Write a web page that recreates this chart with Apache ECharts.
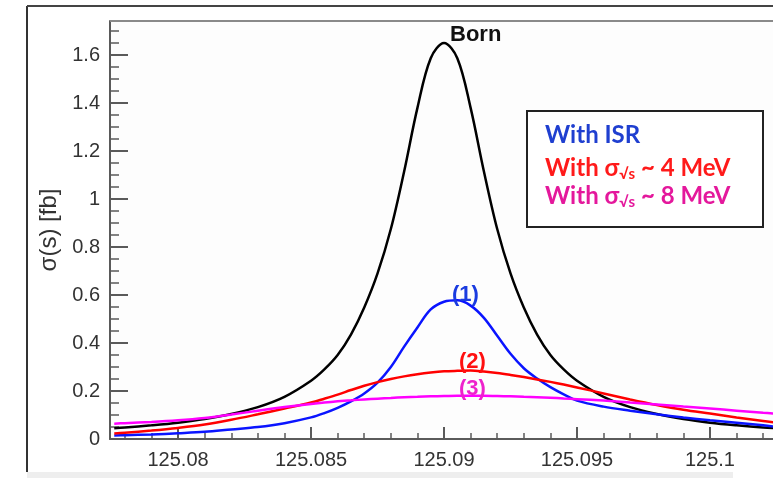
<!DOCTYPE html>
<html>
<head>
<meta charset="utf-8">
<script src="https://cdn.jsdelivr.net/npm/echarts@6/dist/echarts.min.js"></script>
<style>
  html, body { margin: 0; padding: 0; background: #fff; }
  #chart { width: 773px; height: 478px; }
</style>
</head>
<body>
<div id="chart"></div>
<script>
// sqrt(s) in GeV
const energy = [125.0776, 125.078, 125.079, 125.080, 125.081, 125.082, 125.083, 125.084, 125.085,
  125.0855, 125.086, 125.0865, 125.087, 125.0875, 125.088, 125.0885, 125.089, 125.0895, 125.090,
  125.0905, 125.091, 125.0915, 125.092, 125.0925, 125.093, 125.0935, 125.094, 125.0945, 125.095,
  125.096, 125.097, 125.098, 125.099, 125.100, 125.101, 125.102, 125.1024]

// sigma(s) in fb
const born = [0.045, 0.048, 0.057, 0.068, 0.083, 0.104, 0.133, 0.176, 0.243,
  0.29, 0.35, 0.435, 0.548, 0.69, 0.875, 1.115, 1.38, 1.587, 1.65,
  1.587, 1.38, 1.115, 0.875, 0.69, 0.548, 0.435, 0.35, 0.29, 0.243,
  0.176, 0.133, 0.104, 0.083, 0.068, 0.057, 0.048, 0.046]
const withISR = [0.015, 0.016, 0.019, 0.024, 0.030, 0.040, 0.050, 0.066, 0.090,
  0.108, 0.130, 0.157, 0.190, 0.235, 0.300, 0.385, 0.465, 0.54, 0.572,
  0.578, 0.556, 0.505, 0.43, 0.355, 0.295, 0.252, 0.216, 0.186, 0.16,
  0.135, 0.118, 0.103, 0.090, 0.078, 0.068, 0.057, 0.052]
const spread4 = [0.023, 0.026, 0.035, 0.046, 0.060, 0.080, 0.103, 0.127, 0.152,
  0.168, 0.185, 0.204, 0.222, 0.237, 0.250, 0.261, 0.270, 0.277, 0.282,
  0.284, 0.285, 0.281, 0.275, 0.267, 0.258, 0.248, 0.238, 0.227, 0.215,
  0.190, 0.165, 0.142, 0.122, 0.106, 0.090, 0.075, 0.069]
const spread8 = [0.064, 0.066, 0.071, 0.078, 0.088, 0.102, 0.118, 0.133, 0.146,
  0.152, 0.157, 0.161, 0.165, 0.168, 0.171, 0.174, 0.176, 0.178, 0.179,
  0.180, 0.180, 0.180, 0.179, 0.178, 0.176, 0.174, 0.172, 0.169, 0.166,
  0.160, 0.152, 0.144, 0.135, 0.127, 0.118, 0.109, 0.106]

const xTickLabels = [125.08, 125.085, 125.09, 125.095, 125.1]
const xMinorTicks = [125.078, 125.079, 125.081, 125.082, 125.083, 125.084, 125.086, 125.087, 125.088,
  125.089, 125.091, 125.092, 125.093, 125.094, 125.096, 125.097, 125.098, 125.099, 125.101, 125.102]
const yTickLabels = [0, 0.2, 0.4, 0.6, 0.8, 1, 1.2, 1.4, 1.6]
const yMinorTicks = [0.05, 0.1, 0.15, 0.25, 0.3, 0.35, 0.45, 0.5, 0.55, 0.65, 0.7, 0.75, 0.85, 0.9, 0.95,
  1.05, 1.1, 1.15, 1.25, 1.3, 1.35, 1.45, 1.5, 1.55, 1.65, 1.7]

const xMin = 125.07744
const xMax = 125.10237
const yMax = 1.742

const axisGrey = '#5a5a5a'
const tickFont = 'Liberation Sans, Arial, sans-serif'
const legendFont = 'Lato, Open Sans, sans-serif'

function pairs(ys) {
  return energy.map((e, i) => [e, ys[i]])
}

const chart = echarts.init(document.getElementById('chart'), null, { renderer: 'canvas' })

function curve(name, ys, color) {
  return {
    name: name,
    type: 'line',
    xAxisIndex: 0,
    yAxisIndex: 0,
    data: pairs(ys),
    smooth: 0.35,
    showSymbol: false,
    lineStyle: { color: color, width: 2.5 },
    itemStyle: { color: color },
    z: 3
  }
}

function legendLine(text, top, color) {
  return {
    type: 'text', left: 545, top: top, z: 21,
    style: {
      text: text,
      rich: {
        a: { fill: color, fontSize: 24, fontWeight: 'bold', fontFamily: legendFont, lineHeight: 28 },
        s: { fill: color, fontSize: 15, fontWeight: 'bold', fontFamily: legendFont, lineHeight: 15, verticalAlign: 'bottom' }
      }
    }
  }
}

function curveLabel(text, left, top, color) {
  return { type: 'text', left: left, top: top, z: 20, style: { text: text, fill: color, font: 'bold 22px Liberation Sans, Arial, sans-serif' } }
}

chart.setOption({
  animation: false,
  backgroundColor: '#ffffff',
  grid: { left: 110, top: 21, right: 0, bottom: 39, show: true, backgroundColor: '#fdfdfd', borderWidth: 0 },
  xAxis: [
    {
      type: 'value', min: xMin, max: xMax,
      axisLine: { show: true, onZero: false, lineStyle: { color: axisGrey, width: 2 } },
      axisTick: { show: true, inside: true, length: 12, customValues: xTickLabels, lineStyle: { color: axisGrey, width: 2 } },
      axisLabel: {
        customValues: xTickLabels, margin: 11, color: '#333', fontSize: 20, fontFamily: tickFont,
        formatter: v => String(+v.toFixed(3))
      },
      splitLine: { show: false }
    },
    {
      type: 'value', min: xMin, max: xMax, position: 'bottom',
      axisLine: { show: false },
      axisTick: { show: true, inside: true, length: 6, customValues: xMinorTicks, lineStyle: { color: axisGrey, width: 1.5 } },
      axisLabel: { show: false },
      splitLine: { show: false }
    }
  ],
  yAxis: [
    {
      type: 'value', min: 0, max: yMax,
      name: 'σ(s) [fb]', nameLocation: 'middle', nameGap: 48, nameRotate: 90,
      nameTextStyle: { color: '#333', fontSize: 24, fontFamily: tickFont },
      axisLine: { show: true, onZero: false, lineStyle: { color: axisGrey, width: 2 } },
      axisTick: { show: true, inside: true, length: 18, customValues: yTickLabels, lineStyle: { color: axisGrey, width: 2 } },
      axisLabel: {
        customValues: yTickLabels, margin: 10, color: '#333', fontSize: 20, fontFamily: tickFont,
        formatter: v => String(+v.toFixed(1))
      },
      splitLine: { show: false }
    },
    {
      type: 'value', min: 0, max: yMax, position: 'left',
      axisLine: { show: false },
      axisTick: { show: true, inside: true, length: 9, customValues: yMinorTicks, lineStyle: { color: axisGrey, width: 1.5 } },
      axisLabel: { show: false },
      splitLine: { show: false }
    }
  ],
  series: [
    curve('Born', born, '#000000'),
    curve('With ISR', withISR, '#0a14ff'),
    curve('With σ√s ~ 4 MeV', spread4, '#ff0000'),
    curve('With σ√s ~ 8 MeV', spread8, '#ff00ff')
  ],
  graphic: [
    // outer frame of the slide
    { type: 'line', shape: { x1: 27, y1: 6, x2: 27, y2: 472 }, style: { stroke: '#333', lineWidth: 2 } },
    { type: 'line', shape: { x1: 27, y1: 6, x2: 773, y2: 6 }, style: { stroke: '#444', lineWidth: 2 } },
    { type: 'rect', shape: { x: 27, y: 472, width: 706, height: 6 }, style: { fill: '#eeeeee' } },
    // top edge of the plot frame
    { type: 'line', shape: { x1: 110, y1: 21, x2: 773, y2: 21 }, style: { stroke: '#8a8a8a', lineWidth: 2 }, z: 10 },
    // curve labels
    curveLabel('Born', 450, 24, '#111'),
    curveLabel('(1)', 452, 284, '#1a3be0'),
    curveLabel('(2)', 459, 351, '#ff1010'),
    curveLabel('(3)', 459, 378, '#ee22cc'),
    // legend box
    { type: 'rect', z: 20, shape: { x: 527, y: 111, width: 236, height: 116 }, style: { fill: '#ffffff', stroke: '#222', lineWidth: 2 } },
    legendLine('{a|With ISR}', 123, '#1f3fd0'),
    legendLine('{a|With σ}{s|√s}{a| ~ 4 MeV}', 156, '#ff1a1a'),
    legendLine('{a|With σ}{s|√s}{a| ~ 8 MeV}', 184, '#e4189c')
  ]
})
</script>
</body>
</html>
